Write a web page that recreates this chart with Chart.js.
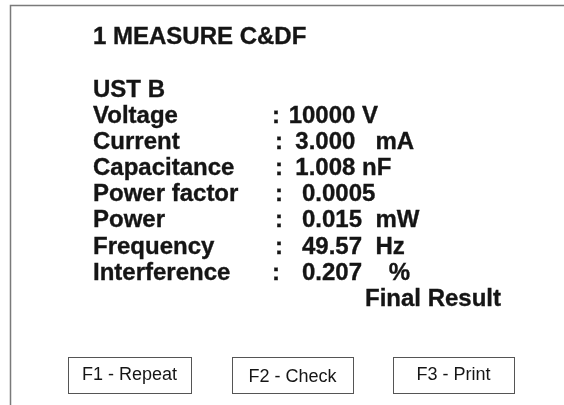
<!DOCTYPE html>
<html>
<head>
<meta charset="utf-8">
<title>1 MEASURE C&amp;DF</title>
<script src="https://cdn.jsdelivr.net/npm/chart.js@4.4.1/dist/chart.umd.min.js"></script>
<style>
  html, body { margin: 0; padding: 0; background: #fff; }
  #screen { display: block; }
</style>
</head>
<body>
<canvas id="screen" width="564" height="405"></canvas>
<script>
  // screen content
  const title = '1 MEASURE C&DF';
  const mode = 'UST B';
  const paramNames = ['Voltage', 'Current', 'Capacitance', 'Power factor', 'Power', 'Frequency', 'Interference'];
  const paramValues = [' 10000 V', '  3.000   mA', '  1.008 nF', '   0.0005', '   0.015  mW', '   49.57  Hz', '   0.207    %'];
  const status = 'Final Result';
  const keyLabels = ['F1 - Repeat', 'F2 - Check', 'F3 - Print'];

  const INK = '#151515';
  const BOLD = 'bold 24px "Liberation Sans", Arial, sans-serif';
  const REG = '18px "Liberation Sans", Arial, sans-serif';

  // draws the instrument screen through the chart's x/y scales (pixel units)
  const screenPlugin = {
    id: 'screenText',
    afterDraw: function (chart) {
      const ctx = chart.ctx;
      const x = chart.scales.x;
      const y = chart.scales.y;
      const px = function (v) { return x.getPixelForValue(v); };
      const py = function (v) { return y.getPixelForValue(v); };

      ctx.save();

      // frame (top + left edge only)
      ctx.strokeStyle = '#7a7a7a';
      ctx.lineWidth = 1.5;
      ctx.beginPath();
      ctx.moveTo(px(10.5), py(405));
      ctx.lineTo(px(10.5), py(5.5));
      ctx.lineTo(px(564), py(5.5));
      ctx.stroke();

      ctx.fillStyle = INK;
      ctx.strokeStyle = INK;
      ctx.lineWidth = 0.35;
      ctx.font = BOLD;
      ctx.textBaseline = 'alphabetic';
      ctx.textAlign = 'left';

      function heavy(text, tx, ty) {
        ctx.fillText(text, tx, ty);
        ctx.strokeText(text, tx, ty);
      }

      heavy(title, px(93), py(44));
      heavy(mode, px(93), py(97));

      const firstRow = 122.5;
      const step = 26.2;
      paramNames.forEach(function (name, i) {
        const rowY = py(firstRow + i * step);
        heavy(name, px(93), rowY);
        heavy(':', px(i === 0 || i === 6 ? 272 : 275), rowY);
        heavy(paramValues[i], px(282), rowY);
      });
      heavy(status, px(365), py(firstRow + paramNames.length * step));

      // soft keys
      const boxes = [[68, 191], [232, 353], [393, 514]];
      ctx.font = REG;
      ctx.textAlign = 'center';
      ctx.textBaseline = 'middle';
      keyLabels.forEach(function (label, i) {
        const b = boxes[i];
        ctx.strokeStyle = '#555';
        ctx.lineWidth = 1;
        ctx.strokeRect(px(b[0]) + 0.5, py(357) + 0.5, px(b[1]) - px(b[0]), py(393) - py(357));
        ctx.fillStyle = INK;
        ctx.fillText(label, (px(b[0]) + px(b[1])) / 2, py(i === 1 ? 377 : 375));
      });

      ctx.restore();
    }
  };

  new Chart(document.getElementById('screen'), {
    type: 'scatter',
    data: { datasets: [] },
    options: {
      responsive: false,
      animation: false,
      devicePixelRatio: 1,
      layout: { padding: 0 },
      plugins: { legend: { display: false }, tooltip: { enabled: false } },
      scales: {
        x: { type: 'linear', min: 0, max: 564, display: false },
        y: { type: 'linear', min: 0, max: 405, reverse: true, display: false }
      }
    },
    plugins: [screenPlugin]
  });
</script>
</body>
</html>
